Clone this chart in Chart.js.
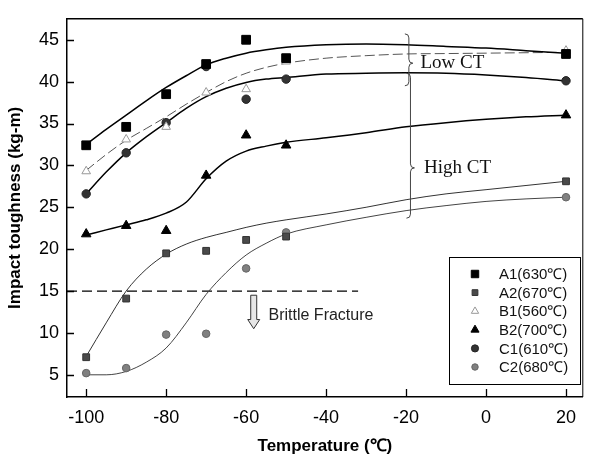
<!DOCTYPE html>
<html>
<head>
<meta charset="utf-8">
<script src="https://cdn.jsdelivr.net/npm/chart.js@4.4.0/dist/chart.umd.min.js"></script>
<style>
  html, body { margin: 0; background: #fff; }
</style>
</head>
<body>
<canvas id="impactChart" width="590" height="462"></canvas>
<script>
// measured points
const temps = [-100, -90, -80, -70, -60, -50, 20];
const a1 = [32.4, 34.6, 38.5, 42.1, 45.0, 42.8, 43.3];
const a2 = [7.1, 14.1, 19.5, 19.8, 21.1, 21.5, 28.1];
const b1 = [29.3, 33.1, 34.6, 38.7, 39.1, 42.4, 43.7];
const b2 = [21.8, 22.8, 22.2, 28.8, 33.6, 32.4, 36.0];
const c1 = [26.6, 31.5, 35.1, 41.8, 37.9, 40.3, 40.1];
const c2 = [5.2, 5.8, 9.8, 9.9, 17.7, 22.0, 26.2];

// fitted curves
const fitTemps = [-100, -95, -90, -85, -80, -75, -70, -65, -60, -55, -50, -40, -30, -20, -10, 0, 10, 20];
const fitA1 = [32.5, 34.3, 36.0, 37.7, 39.3, 40.7, 42.0, 42.8, 43.4, 43.8, 44.1, 44.4, 44.5, 44.4, 44.2, 44.0, 43.7, 43.4];
const fitA2 = [7.2, 11.2, 15.0, 17.6, 19.4, 20.6, 21.4, 22.0, 22.6, 23.1, 23.5, 24.2, 25.0, 25.9, 26.6, 27.1, 27.6, 28.1];
const fitB1 = [29.4, 31.3, 33.0, 34.4, 35.8, 37.3, 38.7, 40.0, 41.0, 41.7, 42.2, 42.8, 43.1, 43.3, 43.35, 43.4, 43.45, 43.5];
const fitB2 = [21.7, 22.3, 22.9, 23.5, 24.3, 25.6, 28.4, 30.5, 31.7, 32.3, 32.75, 33.3, 33.9, 34.6, 35.1, 35.5, 35.8, 36.0];
const fitC1 = [26.6, 29.2, 31.5, 33.4, 35.1, 36.8, 38.2, 39.2, 39.9, 40.3, 40.5, 40.9, 41.0, 41.05, 41.0, 40.8, 40.5, 40.1];
const fitC2 = [5.0, 5.0, 5.4, 6.5, 8.2, 11.2, 14.6, 17.2, 19.3, 20.7, 21.8, 22.9, 23.8, 24.6, 25.2, 25.7, 26.0, 26.2];

const brittleX = [-104.8, -32];
const brittleY = [15, 15];

const xTicks = [-100, -80, -60, -40, -20, 0, 20];
const yTicks = [5, 10, 15, 20, 25, 30, 35, 40, 45];
const legendLabels = ['A1(630℃)', 'A2(670℃)', 'B1(560℃)', 'B2(700℃)', 'C1(610℃)', 'C2(680℃)'];

const pts = (xs, ys) => xs.map((x, i) => ({ x: x, y: ys[i] }));

const markerStyles = [
    { pointStyle: 'rect', radius: 6.2, fill: '#000', stroke: '#000' },
    { pointStyle: 'rect', radius: 4.8, fill: '#4a4a4a', stroke: '#333' },
    { pointStyle: 'triangle', radius: 5, fill: '#fff', stroke: '#999' },
    { pointStyle: 'triangle', radius: 5.5, fill: '#000', stroke: '#000' },
    { pointStyle: 'circle', radius: 4.2, fill: '#333', stroke: '#222' },
    { pointStyle: 'circle', radius: 3.8, fill: '#808080', stroke: '#666' }
];
const seriesValues = [a1, a2, b1, b2, c1, c2];

function fitLine(ys, color, width, dash) {
    return {
        type: 'line',
        data: pts(fitTemps, ys),
        borderColor: color,
        borderWidth: width,
        borderDash: dash || [],
        pointRadius: 0,
        cubicInterpolationMode: 'monotone',
        fill: false,
        order: 2
    };
}

const datasets = [
    fitLine(fitA1, '#000', 1.5),
    fitLine(fitA2, '#333', 1),
    fitLine(fitB1, '#555', 1, [10, 4]),
    fitLine(fitB2, '#000', 1.5),
    fitLine(fitC1, '#000', 1.5),
    fitLine(fitC2, '#444', 1),
    {
        type: 'line',
        data: pts(brittleX, brittleY),
        borderColor: '#000',
        borderWidth: 1.3,
        borderDash: [10, 5],
        pointRadius: 0,
        order: 3
    }
];
seriesValues.forEach((vals, i) => {
    const m = markerStyles[i];
    datasets.push({
        type: 'scatter',
        label: legendLabels[i],
        data: pts(temps, vals),
        pointStyle: m.pointStyle,
        pointRadius: m.radius,
        pointBackgroundColor: m.fill,
        pointBorderColor: m.stroke,
        pointBorderWidth: 1,
        order: 1
    });
});

function drawMarker(ctx, m, x, y) {
    ctx.save();
    ctx.fillStyle = m.fill;
    ctx.strokeStyle = m.stroke;
    ctx.lineWidth = 1;
    ctx.beginPath();
    if (m.pointStyle === 'rect') {
        const s = m.radius * Math.SQRT1_2;
        ctx.rect(x - s, y - s, 2 * s, 2 * s);
    } else if (m.pointStyle === 'triangle') {
        const r = m.radius;
        ctx.moveTo(x, y - r);
        ctx.lineTo(x + r * 0.866, y + r * 0.5);
        ctx.lineTo(x - r * 0.866, y + r * 0.5);
        ctx.closePath();
    } else {
        ctx.arc(x, y, m.radius, 0, Math.PI * 2);
    }
    ctx.fill();
    ctx.stroke();
    ctx.restore();
}

function drawBrace(ctx, x, yT, yM, yB) {
    const w = 4;
    ctx.beginPath();
    ctx.moveTo(x - w, yT);
    ctx.quadraticCurveTo(x, yT, x, yT + w);
    ctx.lineTo(x, yM - w);
    ctx.quadraticCurveTo(x, yM, x + w, yM);
    ctx.quadraticCurveTo(x, yM, x, yM + w);
    ctx.lineTo(x, yB - w);
    ctx.quadraticCurveTo(x, yB, x - w, yB);
    ctx.stroke();
}

const extras = {
    id: 'extras',
    afterDraw(chart) {
        const ctx = chart.ctx;
        const xs = chart.scales.x, ys = chart.scales.y;
        const a = chart.chartArea;
        ctx.save();
        // frame
        ctx.strokeStyle = '#000';
        ctx.lineWidth = 1.5;
        ctx.beginPath();
        ctx.moveTo(a.left, a.top);
        ctx.lineTo(a.right, a.top);
        ctx.stroke();
        ctx.lineWidth = 1;
        ctx.beginPath();
        ctx.moveTo(a.right, a.top);
        ctx.lineTo(a.right, a.bottom);
        ctx.stroke();
        // inward ticks
        ctx.lineWidth = 1.3;
        ctx.beginPath();
        xTicks.forEach(v => {
            const p = Math.round(xs.getPixelForValue(v)) + 0.5;
            ctx.moveTo(p, a.bottom);
            ctx.lineTo(p, a.bottom - 8);
        });
        yTicks.forEach(v => {
            const p = Math.round(ys.getPixelForValue(v)) + 0.5;
            ctx.moveTo(a.left, p);
            ctx.lineTo(a.left + 7, p);
        });
        ctx.stroke();

        // braces and labels
        ctx.strokeStyle = '#444';
        ctx.lineWidth = 1;
        drawBrace(ctx, xs.getPixelForValue(-19.3), ys.getPixelForValue(45.7), ys.getPixelForValue(42.2), ys.getPixelForValue(39.5));
        drawBrace(ctx, xs.getPixelForValue(-18.9), ys.getPixelForValue(41.0), ys.getPixelForValue(29.7), ys.getPixelForValue(23.7));
        ctx.fillStyle = '#111';
        ctx.font = '19px "Liberation Serif", "Times New Roman", serif';
        ctx.textBaseline = 'middle';
        ctx.textAlign = 'left';
        ctx.fillText('Low CT', xs.getPixelForValue(-16.4), ys.getPixelForValue(42.2));
        ctx.fillText('High CT', xs.getPixelForValue(-15.5), ys.getPixelForValue(29.7));

        // brittle fracture arrow and text
        const cx = xs.getPixelForValue(-58.1);
        const yT = ys.getPixelForValue(14.5), yH = ys.getPixelForValue(11.6), yTip = ys.getPixelForValue(10.5);
        ctx.strokeStyle = '#333';
        ctx.fillStyle = '#e6e6e6';
        ctx.beginPath();
        ctx.moveTo(cx - 3, yT);
        ctx.lineTo(cx + 3, yT);
        ctx.lineTo(cx + 3, yH);
        ctx.lineTo(cx + 6, yH);
        ctx.lineTo(cx, yTip);
        ctx.lineTo(cx - 6, yH);
        ctx.lineTo(cx - 3, yH);
        ctx.closePath();
        ctx.fill();
        ctx.stroke();
        ctx.fillStyle = '#222';
        ctx.font = '16px "Liberation Sans", Arial, sans-serif';
        ctx.fillText('Brittle Fracture', xs.getPixelForValue(-54.4), ys.getPixelForValue(12.1));

        // legend box
        const lx = 449, ly = 257, lw = 131, lh = 127;
        ctx.fillStyle = '#fff';
        ctx.fillRect(lx, ly, lw, lh);
        ctx.strokeStyle = '#000';
        ctx.lineWidth = 1;
        ctx.strokeRect(lx + 0.5, ly + 0.5, lw, lh);
        ctx.font = '15px "Liberation Sans", Arial, sans-serif';
        legendLabels.forEach((lab, i) => {
            const yy = ly + 17 + i * 18.6;
            const m = Object.assign({}, markerStyles[i], { radius: markerStyles[i].radius * 0.85 });
            drawMarker(ctx, m, lx + 26, yy);
            ctx.fillStyle = '#111';
            ctx.fillText(lab, lx + 50, yy + 1);
        });
        ctx.restore();
    }
};

new Chart(document.getElementById('impactChart').getContext('2d'), {
    data: { datasets: datasets },
    options: {
        responsive: false,
        animation: false,
        layout: { padding: { top: 8, right: 3, left: 0, bottom: 0 } },
        plugins: {
            legend: { display: false },
            tooltip: { enabled: false }
        },
        scales: {
            x: {
                type: 'linear',
                min: -104.8,
                max: 24.2,
                afterFit: s => { s.height = 65; },
                afterBuildTicks: s => { s.ticks = xTicks.map(v => ({ value: v })); },
                grid: { display: false, drawTicks: false },
                border: { display: true, color: '#000', width: 1.5 },
                ticks: {
                    padding: 10,
                    color: '#000',
                    font: { family: '"Liberation Sans", Arial, sans-serif', size: 18 }
                },
                title: {
                    display: true,
                    text: 'Temperature (℃)',
                    color: '#000',
                    padding: { top: 0, bottom: 5 },
                    font: { family: '"Liberation Sans", Arial, sans-serif', size: 17, weight: 'bold' }
                }
            },
            y: {
                type: 'linear',
                min: 2.35,
                max: 47.5,
                afterFit: s => { s.width = 67; },
                afterBuildTicks: s => { s.ticks = yTicks.map(v => ({ value: v })); },
                grid: { display: false, drawTicks: false },
                border: { display: true, color: '#000', width: 1.5 },
                ticks: {
                    padding: 8,
                    color: '#000',
                    font: { family: '"Liberation Sans", Arial, sans-serif', size: 18 }
                },
                title: {
                    display: true,
                    text: 'Impact toughness (kg-m)',
                    color: '#000',
                    padding: { top: 5, bottom: 0 },
                    font: { family: '"Liberation Sans", Arial, sans-serif', size: 17, weight: 'bold' }
                }
            }
        }
    },
    plugins: [extras]
});
</script>
</body>
</html>
